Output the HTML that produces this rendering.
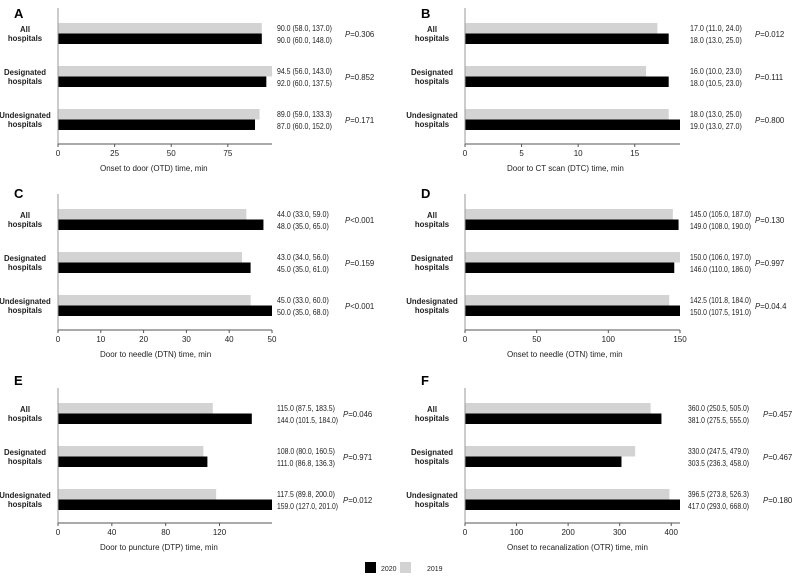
<!DOCTYPE html>
<html><head><meta charset="utf-8"><style>
html,body{margin:0;padding:0;background:#fff;}
svg{display:block;font-family:"Liberation Sans",Arial,sans-serif;}
</style></head><body>
<svg id="fig" width="795" height="576" viewBox="0 0 795 576"></svg>
<script>
const categories = ["All hospitals","Designated hospitals","Undesignated hospitals"];
const panelLetters = ["A","B","C","D","E","F"];
const panelTitles = ["Onset to door (OTD) time, min","Door to CT scan (DTC) time, min","Door to needle (DTN) time, min","Onset to needle (OTN) time, min","Door to puncture (DTP) time, min","Onset to recanalization (OTR) time, min"];
const values2019 = [[90.0,94.5,89.0],[17.0,16.0,18.0],[44.0,43.0,45.0],[145.0,150.0,142.5],[115.0,108.0,117.5],[360.0,330.0,396.5]];
const values2020 = [[90.0,92.0,87.0],[18.0,18.0,19.0],[48.0,45.0,50.0],[149.0,146.0,150.0],[144.0,111.0,159.0],[381.0,303.5,417.0]];
const labels2019 = [["90.0 (58.0, 137.0)","94.5 (56.0, 143.0)","89.0 (59.0, 133.3)"],["17.0 (11.0, 24.0)","16.0 (10.0, 23.0)","18.0 (13.0, 25.0)"],["44.0 (33.0, 59.0)","43.0 (34.0, 56.0)","45.0 (33.0, 60.0)"],["145.0 (105.0, 187.0)","150.0 (106.0, 197.0)","142.5 (101.8, 184.0)"],["115.0 (87.5, 183.5)","108.0 (80.0, 160.5)","117.5 (89.8, 200.0)"],["360.0 (250.5, 505.0)","330.0 (247.5, 479.0)","396.5 (273.8, 526.3)"]];
const labels2020 = [["90.0 (60.0, 148.0)","92.0 (60.0, 137.5)","87.0 (60.0, 152.0)"],["18.0 (13.0, 25.0)","18.0 (10.5, 23.0)","19.0 (13.0, 27.0)"],["48.0 (35.0, 65.0)","45.0 (35.0, 61.0)","50.0 (35.0, 68.0)"],["149.0 (108.0, 190.0)","146.0 (110.0, 186.0)","150.0 (107.5, 191.0)"],["144.0 (101.5, 184.0)","111.0 (86.8, 136.3)","159.0 (127.0, 201.0)"],["381.0 (275.5, 555.0)","303.5 (236.3, 458.0)","417.0 (293.0, 668.0)"]];
const pOps = [["=","=","="],["=","=","="],["<","=","<"],["=","=","="],["=","=","="],["=","=","="]];
const pValues = [["0.306","0.852","0.171"],["0.012","0.111","0.800"],["0.001","0.159","0.001"],["0.130","0.997","0.04.4"],["0.046","0.971","0.012"],["0.457","0.467","0.180"]];
const axisMax = [94.5,19,50,150,159,417];
const tickVals = [[0,25,50,75],[0,5,10,15],[0,10,20,30,40,50],[0,50,100,150],[0,40,80,120],[0,100,200,300,400]];

const NS="http://www.w3.org/2000/svg";
const svg=document.getElementById('fig');
function el(tag,attrs,parent,text){const e=document.createElementNS(NS,tag);for(const k in attrs)e.setAttribute(k,attrs[k]);if(text!==undefined)e.textContent=text;(parent||svg).appendChild(e);return e;}

const layout=[
 {x0:58,ax:144,bt:23,at:8,ly:18,vx:277,px:345},
 {x0:465,ax:144,bt:23,at:8,ly:18,vx:690,px:755},
 {x0:58,ax:330,bt:209,at:194,ly:198,vx:277,px:345},
 {x0:465,ax:330,bt:209,at:194,ly:198,vx:690,px:755},
 {x0:58,ax:523,bt:403,at:388,ly:385,vx:277,px:343},
 {x0:465,ax:523,bt:403,at:388,ly:385,vx:688,px:763}
];
const W=[214,215,214,215,214,215];

for(let p=0;p<6;p++){
  const L=layout[p];
  const g=el('g',{},svg);
  
  
  const sx=v=>L.x0+v/axisMax[p]*W[p];
  const lt=el('text',{x:L.x0-44,y:L.ly,'font-size':13,'font-weight':'bold'},g,panelLetters[p]);
  
  
  for(let i=0;i<3;i++){
    const y=L.bt+i*43;
    const gb=el('rect',{x:L.x0,y:y,width:sx(values2019[p][i])-L.x0,height:10.5,fill:'#d3d3d3'},g);
    
    
    const bb=el('rect',{x:L.x0,y:y+10.5,width:sx(values2020[p][i])-L.x0,height:10.5,fill:'#000'},g);
    
    
    const words=categories[i].split(' ');
    const cx=L.x0-33;
    const c=el('text',{x:cx,y:y+9,'font-size':7.8,'font-weight':'bold','text-anchor':'middle',fill:'#222'},g);
    
    
    el('tspan',{x:cx,dy:0},c,words[0]);
    el('tspan',{x:cx,dy:9},c,words[1]);
    const v1=el('text',{x:L.vx,y:y+8,'font-size':8,fill:'#222',textLength:labels2019[p][i].length*3.05,lengthAdjust:'spacingAndGlyphs'},g,labels2019[p][i]);
    
    
    const v2=el('text',{x:L.vx,y:y+20,'font-size':8,fill:'#222',textLength:labels2020[p][i].length*3.05,lengthAdjust:'spacingAndGlyphs'},g,labels2020[p][i]);
    
    
    const pt=el('text',{x:L.px,y:y+14,'font-size':7.8,fill:'#222'},g);
    
    
    el('tspan',{'font-style':'italic'},pt,'P');
    el('tspan',{},pt,pOps[p][i]+pValues[p][i]);
  }
  const ya=el('line',{x1:L.x0,y1:L.at,x2:L.x0,y2:L.ax,stroke:'#999','stroke-width':1},g);
  
  
  const xa=el('line',{x1:L.x0,y1:L.ax,x2:L.x0+W[p],y2:L.ax,stroke:'#555','stroke-width':1},g);
  
  
  tickVals[p].forEach(t=>{
    el('line',{x1:sx(t),y1:L.ax,x2:sx(t),y2:L.ax+3,stroke:'#555'},g);
    const tl=el('text',{x:sx(t),y:L.ax+12,'font-size':8,'text-anchor':'middle',fill:'#222'},g,String(t));
    
    
  });
  const at=el('text',{x:L.x0+42,y:L.ax+27,'font-size':8,fill:'#222'},g,panelTitles[p]);
  
  
}
const lg=el('g',{},svg);


const l1=el('rect',{x:365,y:562,width:11,height:11,fill:'#000'},lg);


el('text',{x:381,y:571,'font-size':7,fill:'#222'},lg,'2020');
const l2=el('rect',{x:400,y:562,width:11,height:11,fill:'#d3d3d3'},lg);


el('text',{x:427,y:571,'font-size':7,fill:'#222'},lg,'2019');
</script>
</body></html>
